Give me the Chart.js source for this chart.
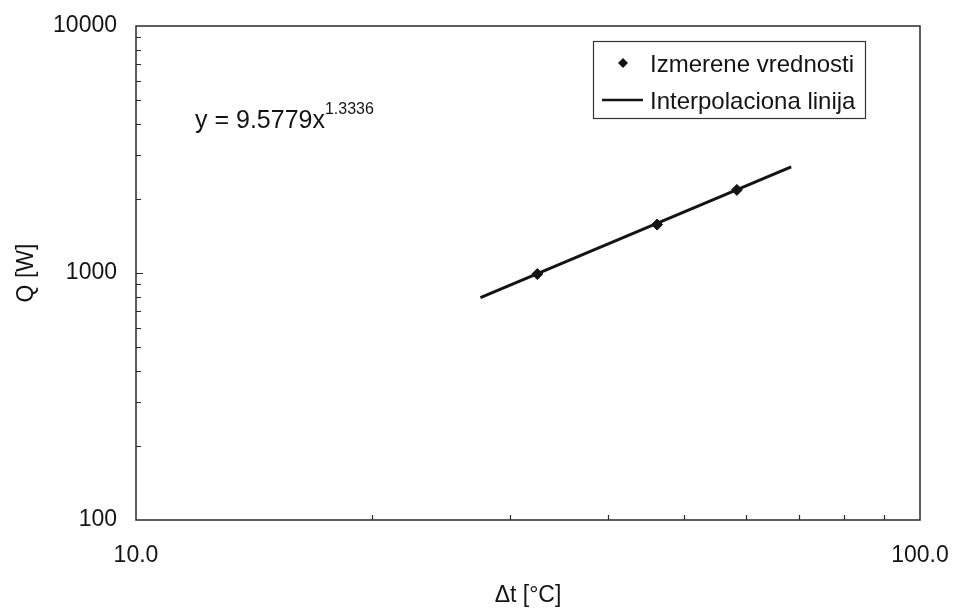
<!DOCTYPE html>
<html>
<head>
<meta charset="utf-8">
<script src="https://cdn.jsdelivr.net/npm/chart.js@4"></script>
<style>
  html, body { margin: 0; padding: 0; background: #fff; }
  #wrap { width: 953px; height: 608px; }
</style>
</head>
<body>
<div id="wrap"><canvas id="myChart" width="953" height="608"></canvas></div>
<script>
const measuredDt = [32.5, 46.2, 58.4];
const measuredQ = [990, 1570, 2170];
// interpolation line, its two end points
const lineDt = [27.5, 68.5];
const lineQ = [795, 2690];

const xMajor = [10, 100];
const xMinor = [20, 30, 40, 50, 60, 70, 80, 90];
const yMajor = [100, 1000, 10000];
const yMinor = [200, 300, 400, 500, 600, 700, 800, 900, 1000, 2000, 3000, 4000, 5000, 6000, 7000, 8000, 9000];

const equationText = 'y = 9.5779x';
const equationExp = '1.3336';
const legendLabels = ['Izmerene vrednosti', 'Interpolaciona linija'];

const FONT = '"Liberation Sans", Arial, sans-serif';
const INK = '#141414';

const boxPlugin = {
  id: 'boxPlugin',
  afterDraw(chart) {
    const ctx = chart.ctx;
    const a = chart.chartArea;
    const xs = chart.scales.x, ys = chart.scales.y;
    ctx.save();
    // frame
    ctx.strokeStyle = '#2a2a2a';
    ctx.lineWidth = 1.5;
    ctx.strokeRect(a.left, a.top, a.right - a.left, a.bottom - a.top);
    // minor ticks, pointing inward
    ctx.lineWidth = 1.2;
    ctx.beginPath();
    xMinor.forEach(v => {
      const px = Math.round(xs.getPixelForValue(v)) + 0.5;
      ctx.moveTo(px, a.bottom);
      ctx.lineTo(px, a.bottom - 5);
    });
    yMinor.forEach(v => {
      const py = Math.round(ys.getPixelForValue(v)) + 0.5;
      ctx.moveTo(a.left, py);
      ctx.lineTo(a.left + (v === 1000 ? 7 : 5), py);
    });
    ctx.stroke();

    // equation
    ctx.fillStyle = INK;
    ctx.textBaseline = 'alphabetic';
    ctx.textAlign = 'left';
    ctx.font = '25px ' + FONT;
    const ex = 195, ey = 128;
    ctx.fillText(equationText, ex, ey);
    const w = ctx.measureText(equationText).width;
    ctx.font = '16px ' + FONT;
    ctx.fillText(equationExp, ex + w, ey - 14);

    // legend box
    const lx = 593, ly = 41, lw = 272, lh = 77;
    ctx.strokeStyle = '#333';
    ctx.lineWidth = 1.2;
    ctx.strokeRect(lx + 0.5, ly + 0.5, lw, lh);
    ctx.font = '24px ' + FONT;
    ctx.fillText(legendLabels[0], 650, 72);
    ctx.fillText(legendLabels[1], 650, 109);
    // diamond
    ctx.beginPath();
    const dx = 623, dy = 63, r = 5;
    ctx.moveTo(dx, dy - r); ctx.lineTo(dx + r, dy); ctx.lineTo(dx, dy + r); ctx.lineTo(dx - r, dy);
    ctx.closePath();
    ctx.fill();
    // line sample
    ctx.strokeStyle = INK;
    ctx.lineWidth = 2.5;
    ctx.beginPath();
    ctx.moveTo(602, 100); ctx.lineTo(643, 100);
    ctx.stroke();
    ctx.restore();
  }
};

const ctx = document.getElementById('myChart').getContext('2d');

const myChart = new Chart(ctx, {
  type: 'scatter',
  data: {
    datasets: [{
      label: legendLabels[0],
      data: measuredDt.map((x, i) => ({ x: x, y: measuredQ[i] })),
      pointStyle: 'rectRot',
      pointRadius: 5.5,
      backgroundColor: INK,
      borderColor: INK,
      showLine: false,
      order: 0
    }, {
      label: legendLabels[1],
      data: lineDt.map((x, i) => ({ x: x, y: lineQ[i] })),
      showLine: true,
      borderColor: INK,
      borderWidth: 3,
      pointRadius: 0,
      order: 1
    }]
  },
  plugins: [boxPlugin],
  options: {
    responsive: false,
    animation: false,
    layout: { padding: { top: 26, right: 33, left: 0, bottom: 0 } },
    plugins: {
      legend: { display: false },
      tooltip: { enabled: false }
    },
    scales: {
      x: {
        type: 'logarithmic',
        min: 10,
        max: 100,
        afterBuildTicks: s => { s.ticks = xMajor.map(v => ({ value: v })); },
        afterFit: s => {
          s.height = 88;
          s.paddingLeft = 0; s.paddingRight = 0;
        },
        grid: { display: false, drawTicks: false },
        border: { display: false },
        ticks: {
          padding: 22,
          color: INK,
          font: { family: FONT, size: 23 },
          callback: v => Number(v).toFixed(1),
          maxRotation: 0
        },
        title: {
          display: true,
          text: 'Δt [°C]',
          color: INK,
          font: { family: FONT, size: 23, lineHeight: 1 },
          padding: { top: 0, bottom: 1 }
        }
      },
      y: {
        type: 'logarithmic',
        min: 100,
        max: 10000,
        afterBuildTicks: s => { s.ticks = yMajor.map(v => ({ value: v })); },
        afterFit: s => {
          s.width = 136;
          s.paddingTop = 0; s.paddingBottom = 0;
        },
        grid: { display: false, drawTicks: false },
        border: { display: false },
        ticks: {
          padding: 19,
          color: INK,
          font: { family: FONT, size: 23 },
          callback: v => String(v)
        },
        title: {
          display: true,
          text: 'Q [W]',
          color: INK,
          font: { family: FONT, size: 23, lineHeight: 1 },
          padding: { top: 15, bottom: 0 }
        }
      }
    }
  }
});
</script>
</body>
</html>
